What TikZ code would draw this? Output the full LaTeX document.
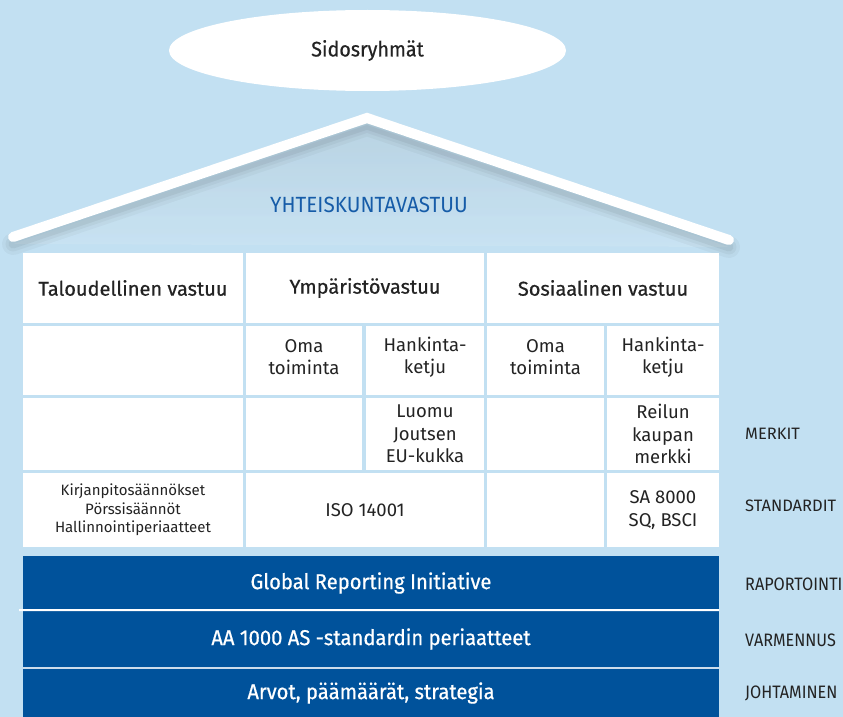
\documentclass[tikz,border=0pt]{standalone}
\usepackage{fontspec}
\usetikzlibrary{shapes.geometric}
\setmainfont{Fira Sans}
\newfontfamily\med[FakeBold=0.6]{Fira Sans}
\newfontfamily\cond[FakeStretch=0.94]{Fira Sans}
\newfontfamily\condb[FakeStretch=0.94,FakeBold=0.6]{Fira Sans}
\newfontfamily\condn[FakeStretch=0.9]{Fira Sans}
\definecolor{bg}{RGB}{194,224,242}
\definecolor{dblue}{RGB}{0,82,155}
\definecolor{tblue}{RGB}{22,92,168}
\definecolor{txt}{RGB}{35,35,35}
\definecolor{shade}{RGB}{100,140,175}
\begin{document}
\begin{tikzpicture}[x=1pt,y=-1pt,
  cell/.style={fill=white, inner sep=0pt, align=center, text=txt,
    font=\fontsize{18.5}{22.5}\selectfont},
  head/.style={cell, font=\med\fontsize{20}{22}\selectfont},
  small/.style={cell, font=\fontsize{15}{18.5}\selectfont},
  bar/.style={fill=dblue, inner sep=0pt, text=white,
    font=\condb\fontsize{21.5}{24}\selectfont},
  side/.style={anchor=west, inner sep=0pt, text=txt,
    font=\fontsize{16.5}{18}\selectfont},
  sidec/.style={anchor=west, inner sep=0pt, text=txt,
    font=\condn\fontsize{18}{20}\selectfont}]
\useasboundingbox (0,0) rectangle (843,717);
\fill[bg] (0,0) rectangle (843,717);

% ellipse
\node[ellipse, fill=white, minimum width=397, minimum height=81, inner sep=0pt,
  text=txt, font=\condb\fontsize{21}{22}\selectfont] (sidos) at (367.5,50.5) {Sidosryhmät};

% roof
\coordinate (roofL) at (13,237);
\coordinate (apex) at (367,118);
\coordinate (roofR) at (729,240);
\foreach \w/\o in {22/0.035, 15/0.04, 9/0.05}
  \draw[shade, opacity=\o, line width=\w, line cap=round, line join=round]
    ([yshift=-7pt]roofL) -- ([yshift=-7pt]apex) -- ([yshift=-7pt]roofR);
\draw[white, line width=10, line cap=round, line join=miter] (roofL) -- (apex) -- (roofR);

\node[text=tblue, inner sep=0pt, font=\cond\fontsize{22}{24}\selectfont] (yht) at (369,205) {YHTEISKUNTAVASTUU};

% row 1
\node[head, minimum width=220, minimum height=70] (h1) at (133,288) {Taloudellinen vastuu};
\node[head, minimum width=238, minimum height=70] (h2) at (365,288) {Ympäristövastuu};
\node[head, minimum width=232, minimum height=70] (h3) at (603,288) {Sosiaalinen vastuu};
% row 2
\node[cell, minimum width=220, minimum height=69] (r2c1) at (133,360.5) {};
\node[cell, minimum width=116, minimum height=69] (r2c2) at (304,360.5) {};
\node[cell, minimum width=118, minimum height=69] (r2c3) at (425,360.5) {};
\node[cell, minimum width=117, minimum height=69] (r2c4) at (545.5,360.5) {};
\node[cell, minimum width=112, minimum height=69] (r2c5) at (663,360.5) {};
\node[cell, fill=none] (t2c2) at (304,357) {Oma\\toiminta};
\node[cell, fill=none] (t2c3) at (425,357) {Hankinta-\\ketju};
\node[cell, fill=none] (t2c4) at (545.5,357) {Oma\\toiminta};
\node[cell, fill=none] (t2c5) at (663,357) {Hankinta-\\ketju};
% row 3
\node[cell, minimum width=220, minimum height=72] (r3c1) at (133,434) {};
\node[cell, minimum width=116, minimum height=72] (r3c2) at (304,434) {};
\node[cell, minimum width=118, minimum height=72] (r3c3) at (425,434) {Luomu\\Joutsen\\EU-kukka};
\node[cell, minimum width=117, minimum height=72] (r3c4) at (545.5,434) {};
\node[cell, minimum width=112, minimum height=72] (r3c5) at (663,434) {Reilun\\kaupan\\merkki};
% row 4
\node[small, minimum width=220, minimum height=74] (r4c1) at (133,510) {Kirjanpitosäännökset\\Pörssisäännöt\\Hallinnointiperiaatteet};
\node[cell, minimum width=238, minimum height=74] (r4c2) at (365,510) {ISO 14001};
\node[cell, minimum width=117, minimum height=74] (r4c4) at (545.5,510) {};
\node[cell, minimum width=112, minimum height=74] (r4c5) at (663,510) {SA 8000\\SQ, BSCI};

% bars
\node[bar, minimum width=696, minimum height=54] (gri) at (371,583) {Global Reporting Initiative};
\node[bar, minimum width=696, minimum height=58] (aa) at (371,639) {AA 1000 AS -standardin periaatteet};
\node[bar, minimum width=696, minimum height=50] (arvot) at (371,693) {Arvot, päämäärät, strategia};
\draw[white, line width=2] (19,610) -- (gri.south east);
\draw[white!80!dblue, line width=2] (aa.south west) -- (aa.south east);

% side labels
\node[side] (merkit) at (745,434) {MERKIT};
\node[side] (std) at (745,506) {STANDARDIT};
\node[sidec] (rap) at (745,584) {RAPORTOINTI};
\node[sidec] (var) at (745,640) {VARMENNUS};
\node[sidec] (joh) at (745,693) {JOHTAMINEN};
\end{tikzpicture}
\end{document}
